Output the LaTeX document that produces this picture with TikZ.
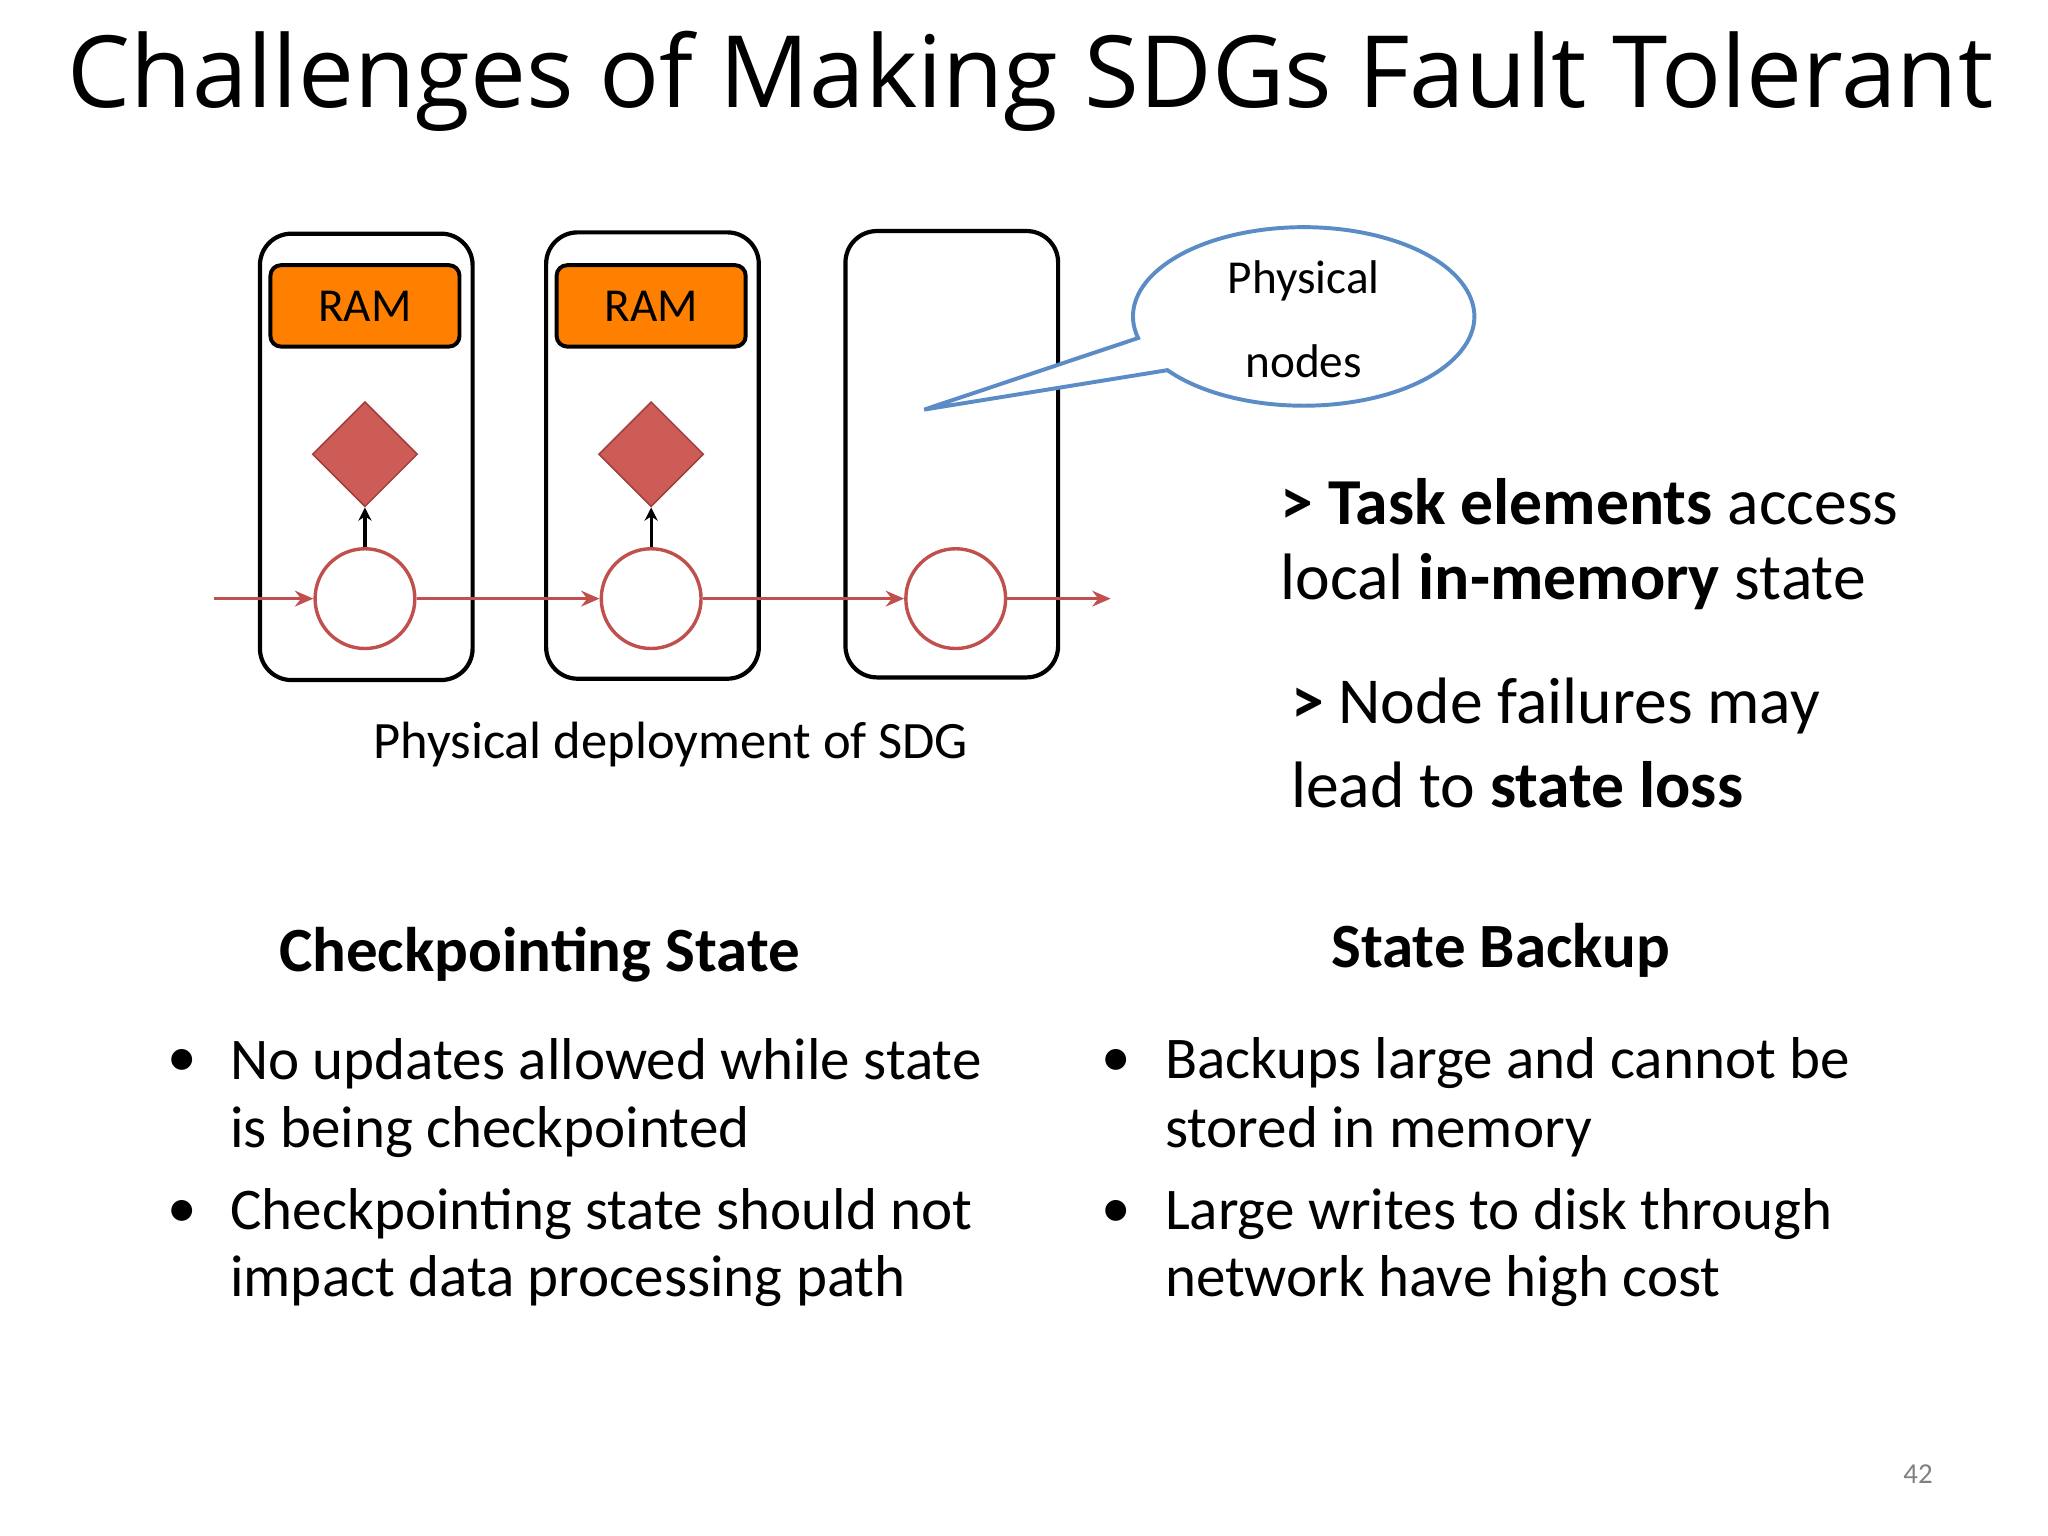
\documentclass[tikz,border=0pt]{standalone}
\usepackage{fontspec}
\setmainfont{Carlito}
\newfontfamily\titlefont{Open Sans}
\usetikzlibrary{shapes.geometric,arrows.meta}
\definecolor{ramor}{HTML}{FF8000}
\definecolor{flow}{HTML}{C0504D}
\definecolor{dia}{HTML}{CD5C57}
\definecolor{diab}{HTML}{A0403C}
\definecolor{callb}{HTML}{5B8CC5}
\tikzset{
  machine/.style={draw,line width=1.6pt,rounded corners=12pt,minimum width=81pt,minimum height=170pt,inner sep=0pt},
  ram/.style={draw,line width=1.5pt,fill=ramor,rounded corners=4pt,minimum width=72pt,minimum height=31pt,inner sep=0pt,font=\fontsize{18}{20}\selectfont},
  stateel/.style={diamond,draw=diab,fill=dia,line width=0.6pt,minimum width=40pt,minimum height=40pt,inner sep=0pt},
  task/.style={circle,draw=flow,line width=1.3pt,fill=white,minimum size=38pt,inner sep=0pt},
  flowar/.style={draw=flow,line width=1.3pt,-{Stealth[length=7pt,width=6pt]}},
  acc/.style={draw,line width=1.2pt,-{Stealth[length=5pt,width=5pt]}},
  body/.style={font=\fontsize{22.5}{26}\selectfont,anchor=west,inner sep=0pt},
  side/.style={font=\fontsize{25}{29}\selectfont,anchor=west,inner sep=0pt},
}
\begin{document}
\begin{tikzpicture}[x=0.5pt,y=-0.5pt]
\useasboundingbox (0,0) rectangle (1560,1170);
\node[font=\titlefont\fontsize{38}{44}\selectfont] (title) at (785,62) {Challenges of Making SDGs Fault Tolerant};
\node[machine] (m1) at (279,348) {};
\node[machine] (m2) at (497,347) {};
\node[machine] (m3) at (725,346) {};
\node[ram] (r1) at (278,233) {RAM};
\node[ram] (r2) at (496,233) {RAM};
\node[stateel] (d1) at (278,346) {};
\node[stateel] (d2) at (496,346) {};
\node[task] (c1) at (278,456) {};
\node[task] (c2) at (496,456) {};
\node[task] (c3) at (728,456) {};
\coordinate (in) at (163,456);
\coordinate (out) at (846,456);
\draw[flowar] (in) -- (c1);
\draw[flowar] (c1) -- (c2);
\draw[flowar] (c2) -- (c3);
\draw[flowar] (c3) -- (out);
\draw[acc] (c1) -- (d1.south);
\draw[acc] (c2) -- (d2.south);
\coordinate (tip) at (704,312);
\draw[callb,line width=1.5pt,fill=white,line join=miter] (866.9,257.5) arc[start angle=166,end angle=503,x radius=130,y radius=68] -- (tip) -- cycle;
\node[align=center,font=\fontsize{18}{32}\selectfont] (phys) at (993,243) {Physical\\nodes};
\node[font=\fontsize{20}{24}\selectfont] (cap) at (511,567) {Physical deployment of SDG};
\node[side] (s1) at (975,382) {\textbf{> Task elements} access};
\node[side] (s2) at (975,443) {local \textbf{in-memory} state};
\node[side] (s3) at (983,538) {\textbf{>} Node failures may};
\node[side] (s4) at (983,598) {lead to \textbf{state loss}};
\node[font=\bfseries\fontsize{24}{28}\selectfont] (h1) at (411,727) {Checkpointing State};
\node[font=\bfseries\fontsize{24}{28}\selectfont] (h2) at (1143,724) {State Backup};
\node[body] (b1) at (127,810) {•};
\node[body] (l1) at (175,810) {No updates allowed while state};
\node[body] (l2) at (175,862) {is being checkpointed};
\node[body] (b2) at (127,925) {•};
\node[body] (l3) at (175,925) {Checkpointing state should not};
\node[body] (l4) at (175,976) {impact data processing path};
\node[body] (b3) at (839,810) {•};
\node[body] (l5) at (887,810) {Backups large and cannot be};
\node[body] (l6) at (887,862) {stored in memory};
\node[body] (b4) at (839,925) {•};
\node[body] (l7) at (887,925) {Large writes to disk through};
\node[body] (l8) at (887,976) {network have high cost};
\node[text=gray,font=\fontsize{11}{13}\selectfont] (pg) at (1461,1123) {42};
\end{tikzpicture}
\end{document}
